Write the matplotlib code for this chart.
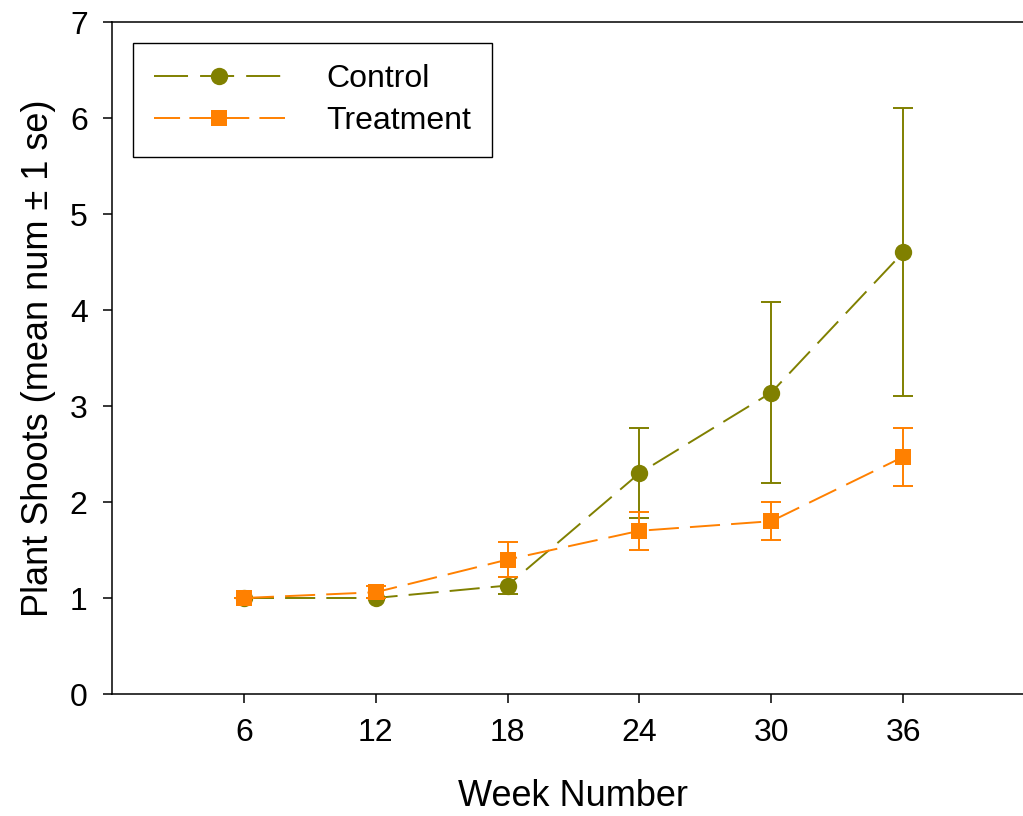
import matplotlib
matplotlib.use("Agg")
import matplotlib.pyplot as plt
from matplotlib.legend_handler import HandlerLine2D

plt.rcParams['font.family'] = ['Liberation Sans', 'DejaVu Sans']

weeks = [6, 12, 18, 24, 30, 36]
control_mean = [1.0, 1.0, 1.13, 2.30, 3.14, 4.60]
control_se = [0.0, 0.0, 0.09, 0.47, 0.94, 1.50]
treatment_mean = [1.0, 1.06, 1.40, 1.70, 1.80, 2.47]
treatment_se = [0.0, 0.06, 0.18, 0.20, 0.20, 0.30]

olive = '#808000'
orange = '#FF8000'
lw = 1.4
dash = (0, (15.5, 5.7))

fig = plt.figure(figsize=(10.23, 8.16), dpi=100)
ax = fig.add_axes([112 / 1023, 1 - 694 / 816, (1035 - 112) / 1023, (694 - 22) / 816])

# control series
ax.errorbar(weeks, control_mean, yerr=control_se, fmt='none', ecolor=olive,
            elinewidth=lw, capsize=7, capthick=lw, zorder=2)
ctrl, = ax.plot(weeks, control_mean, color=olive, lw=lw, linestyle=dash,
                marker='o', markersize=12.5, markeredgewidth=0,
                label='Control', zorder=3)

# treatment series
ax.errorbar(weeks, treatment_mean, yerr=treatment_se, fmt='none', ecolor=orange,
            elinewidth=lw, capsize=7, capthick=lw, zorder=4)
trt, = ax.plot(weeks, treatment_mean, color=orange, lw=lw, linestyle=dash,
               marker='s', markersize=11, markeredgewidth=0,
               label='Treatment', zorder=5)

ax.set_xlim(0, 42)
ax.set_ylim(0, 7)
ax.set_xticks(weeks)
ax.set_yticks(range(0, 8))
ax.tick_params(axis='both', direction='out', length=6.5, width=1.1,
               labelsize=23, color='black', pad=11)
ax.spines['right'].set_visible(False)
for s in ('left', 'bottom', 'top'):
    ax.spines[s].set_linewidth(1.1)

ax.set_xlabel('Week Number', fontsize=26, labelpad=22)
ax.set_ylabel('Plant Shoots (mean num \u00b1 1 se)', fontsize=26, labelpad=10)


# symmetric dash patterns for the legend keys (marker sits in the middle dash)
def key_style(pattern):
    def update(legline, orig):
        legline.update_from(orig)
        legline.set_linestyle((0, pattern))
    return update


handler_map = {
    ctrl: HandlerLine2D(update_func=key_style((17.5, 6.2, 17.5, 6.2, 17.5, 60))),
    trt: HandlerLine2D(update_func=key_style((13.4, 4.8, 30.8, 5.2, 13.4, 60))),
}

leg = ax.legend(handles=[ctrl, trt], handler_map=handler_map,
                loc='upper left', bbox_to_anchor=(21 / 923, 1 - 21 / 672),
                fontsize=23, handlelength=4.1, handletextpad=1.3,
                borderpad=0.65, labelspacing=0.38, fancybox=False,
                framealpha=1, borderaxespad=0, numpoints=1)
leg.get_frame().set_edgecolor('black')
leg.get_frame().set_linewidth(1.0)

fig.savefig('out.png', dpi=100)
